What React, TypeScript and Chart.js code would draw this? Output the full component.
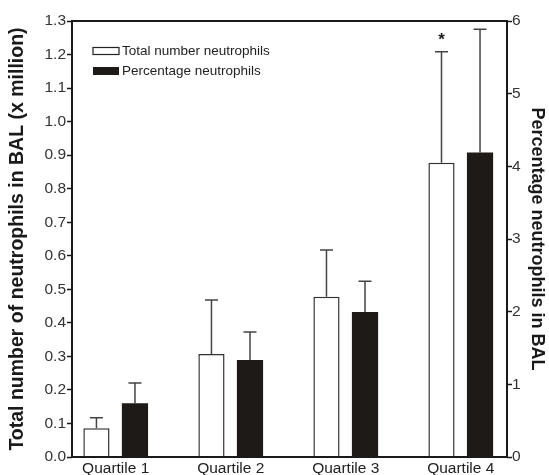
import React, { useEffect, useRef } from 'react';
import { Chart, registerables } from 'chart.js';

Chart.register(...registerables);

const categories = ['Quartile 1', 'Quartile 2', 'Quartile 3', 'Quartile 4'];
const categoryPositions = [1, 2, 3, 4];
const seriesLabels = ['Total number neutrophils', 'Percentage neutrophils'];
const totalMean = [0.086, 0.307, 0.478, 0.877];
const totalErr = [0.031, 0.161, 0.139, 0.331];
const pctMean = [0.74, 1.335, 1.995, 4.19];
const pctErr = [0.28, 0.385, 0.425, 1.695];
const totalMarks = ['', '', '', '*'];
const leftTitle = 'Total number of neutrophils in BAL (x million)';
const rightTitle = 'Percentage neutrophils in BAL';

const FONT = "'Liberation Sans', Arial, Helvetica, sans-serif";
const INK = '#1a1a1a';
const BAR_DARK = '#1d1a17';

const errorsByDataset = [totalErr, pctErr];
const marksByDataset = [totalMarks, ['', '', '', '']];

const framePlugin = {
  id: 'frame',
  afterDatasetsDraw(chart: any) {
    const { ctx, chartArea: a } = chart;
    ctx.save();
    ctx.strokeStyle = INK;
    ctx.lineWidth = 2;
    ctx.strokeRect(a.left, a.top, a.right - a.left, a.bottom - a.top);
    ctx.restore();
  },
};

const errorBarPlugin = {
  id: 'errorBars',
  afterDatasetsDraw(chart: any) {
    const ctx = chart.ctx;
    chart.data.datasets.forEach((ds: any, di: number) => {
      const meta = chart.getDatasetMeta(di);
      const scale = chart.scales[ds.yAxisID];
      const errs = errorsByDataset[di];
      const marks = marksByDataset[di];
      meta.data.forEach((bar: any, i: number) => {
        const v = ds.data[i].y;
        const top = scale.getPixelForValue(v + errs[i]);
        ctx.save();
        ctx.strokeStyle = '#444';
        ctx.lineWidth = 1.5;
        ctx.beginPath();
        ctx.moveTo(bar.x, bar.y);
        ctx.lineTo(bar.x, top);
        ctx.moveTo(bar.x - 6.5, top);
        ctx.lineTo(bar.x + 6.5, top);
        ctx.stroke();
        if (marks[i]) {
          ctx.fillStyle = INK;
          ctx.font = `bold 17px ${FONT}`;
          ctx.textAlign = 'center';
          ctx.textBaseline = 'middle';
          ctx.fillText(marks[i], bar.x, top - 12);
        }
        ctx.restore();
      });
    });
  },
};

const legendPlugin = {
  id: 'customLegend',
  afterDraw(chart: any) {
    const { ctx, chartArea: a } = chart;
    const x = a.left + 21;
    const rows = [a.top + 30, a.top + 50];
    ctx.save();
    ctx.font = `13.5px ${FONT}`;
    ctx.textBaseline = 'middle';
    ctx.textAlign = 'left';
    seriesLabels.forEach((label, i) => {
      const cy = rows[i];
      if (i === 0) {
        ctx.fillStyle = '#fff';
        ctx.fillRect(x, cy - 3.5, 26, 7);
        ctx.strokeStyle = '#222';
        ctx.lineWidth = 1.2;
        ctx.strokeRect(x, cy - 3.5, 26, 7);
      } else {
        ctx.fillStyle = BAR_DARK;
        ctx.fillRect(x, cy - 4, 26, 8);
      }
      ctx.fillStyle = '#222';
      ctx.fillText(label, x + 29, cy);
    });
    ctx.restore();
  },
};

export default function App() {
  const canvasRef = useRef<HTMLCanvasElement | null>(null);

  useEffect(() => {
    const canvas = canvasRef.current;
    if (!canvas) return;
    const chart = new Chart(canvas, {
      type: 'bar',
      data: {
        datasets: [
          {
            label: seriesLabels[0],
            data: categoryPositions.map((x, i) => ({ x, y: totalMean[i] })),
            yAxisID: 'y',
            backgroundColor: '#ffffff',
            borderColor: '#333',
            borderWidth: 1.5,
          },
          {
            label: seriesLabels[1],
            data: categoryPositions.map((x, i) => ({ x, y: pctMean[i] })),
            yAxisID: 'y1',
            backgroundColor: BAR_DARK,
            borderColor: BAR_DARK,
            borderWidth: 0,
          },
        ] as any,
      },
      options: {
        responsive: false,
        animation: false,
        devicePixelRatio: 1,
        categoryPercentage: 0.67,
        barPercentage: 0.68,
        layout: { padding: { top: 21, left: 0, right: 0, bottom: 0 } },
        plugins: { legend: { display: false }, tooltip: { enabled: false } },
        scales: {
          x: {
            type: 'linear',
            offset: false,
            min: 0.62,
            max: 4.402,
            grid: { display: false, drawTicks: false, offset: false },
            border: { display: false },
            afterBuildTicks: (s: any) => {
              s.ticks = categoryPositions.map((v) => ({ value: v }));
            },
            afterFit: (s: any) => {
              s.height = 18;
            },
            ticks: {
              padding: 2,
              color: '#222',
              font: { family: FONT, size: 15.5 },
              maxRotation: 0,
              autoSkip: false,
              callback: (_v: any, i: number) => categories[i],
            },
          },
          y: {
            type: 'linear',
            position: 'left',
            min: 0,
            max: 1.3,
            afterFit: (s: any) => {
              s.width = 72;
            },
            grid: {
              drawOnChartArea: false,
              drawTicks: true,
              tickLength: 5,
              tickColor: INK,
              tickWidth: 1.5,
            },
            border: { display: false },
            ticks: {
              stepSize: 0.1,
              padding: 1,
              color: '#333',
              font: { family: FONT, size: 15.5 },
              callback: (v: any) => Number(v).toFixed(1),
            },
            title: {
              display: true,
              text: leftTitle,
              color: INK,
              font: { family: FONT, size: 19.5, weight: 'bold', lineHeight: 1 },
              padding: { top: 8, bottom: 0 },
            },
          },
          y1: {
            type: 'linear',
            position: 'right',
            min: 0,
            max: 6,
            afterFit: (s: any) => {
              s.width = 42;
            },
            grid: {
              drawOnChartArea: false,
              drawTicks: true,
              tickLength: 5,
              tickColor: INK,
              tickWidth: 1.5,
            },
            border: { display: false },
            ticks: {
              stepSize: 1,
              padding: 0,
              color: '#333',
              font: { family: FONT, size: 15.5 },
            },
            title: {
              display: true,
              text: rightTitle,
              color: INK,
              align: 'center',
              font: { family: FONT, size: 18, weight: 'bold', lineHeight: 1 },
              padding: { top: 3, bottom: 0 },
            },
          },
        },
      } as any,
      plugins: [framePlugin, errorBarPlugin, legendPlugin],
    });
    return () => chart.destroy();
  }, []);

  return (
    <div style={{ position: 'fixed', left: 0, top: 0, width: 549, height: 475, background: '#fff' }}>
      <canvas ref={canvasRef} width={549} height={475} style={{ display: 'block' }} />
    </div>
  );
}
